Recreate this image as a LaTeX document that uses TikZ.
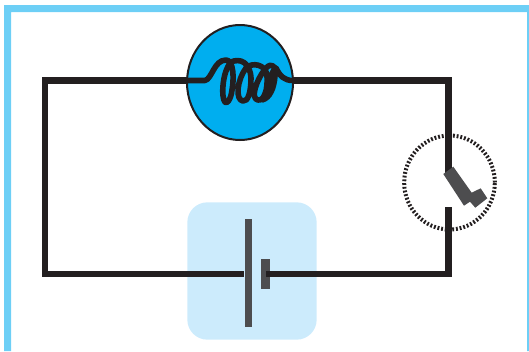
\documentclass[tikz,border=0pt]{standalone}
\usepackage{xcolor}
\usetikzlibrary{shapes.geometric}
\definecolor{framecol}{HTML}{6DCFF6}
\definecolor{lampcol}{HTML}{00AEEF}
\definecolor{padcol}{HTML}{CCEBFC}
\definecolor{wirecol}{HTML}{231F20}
\definecolor{platecol}{HTML}{4D4D4F}
\tikzset{
    box/.style = {rectangle, inner sep=0pt, outer sep=0pt},
    lamp_node/.style = {ellipse, inner sep=0pt, outer sep=0pt, draw=wirecol, line width=1.5pt, fill=lampcol, minimum width=79.5pt, minimum height=86.25pt},
    dial_node/.style = {ellipse, inner sep=0pt, outer sep=0pt, draw=wirecol, line width=3pt, dash pattern=on 1.4pt off 1.4pt, minimum width=68pt, minimum height=70.5pt},
    pad_node/.style = {box, fill=padcol, rounded corners=15pt, minimum width=97pt, minimum height=103pt},
    long_plate/.style = {box, fill=platecol, minimum width=5.2pt, minimum height=81pt},
    short_plate/.style = {box, fill=platecol, minimum width=6.7pt, minimum height=22.5pt},
    wire/.style = {draw=wirecol, line width=5pt},
    coil/.style = {draw=wirecol, line width=4.2pt, line cap=round, line join=round}
}
\begin{document}
\begin{tikzpicture}[x=0.75pt, y=-0.75pt]
    \useasboundingbox (0,0) rectangle (529,351);

    % frame
    \fill[framecol] (4,351) -- (4,5) -- (529,5) -- (529,351) -- (527,351) -- (527,12) -- (11,12) -- (11,351) -- cycle;

    % parts
    \node (pad) [pad_node] at (252,271) {};
    \node (lamp) [lamp_node] at (240,82.5) {};
    \node (dial) [dial_node] at (449.5,182.5) {};

    % corners and wire ends
    \coordinate (lamp_in) at (187,80.5);
    \coordinate (lamp_out) at (293,80.5);
    \coordinate (top_left) at (45,80.5);
    \coordinate (top_right) at (448.3,80.5);
    \coordinate (low_left) at (45,274);
    \coordinate (low_right) at (448.3,274);
    \coordinate (bat_minus) at (244,274);
    \coordinate (bat_plus) at (266,274);
    \coordinate (sw_top) at (448.3,174);
    \coordinate (sw_low) at (448.3,206.5);

    \draw[wire] (lamp_in) -- (top_left) -- (low_left) -- (bat_minus);
    \draw[wire] (lamp_out) -- (top_right) -- (sw_top);
    \node (plate_long) [long_plate] at (248.8,273.3) {};
    \node (plate_short) [short_plate] at (265.8,274.3) {};
    \draw[wire] (bat_plus) -- (low_right) -- (sw_low);

    % lever of the switch
    \fill[platecol] (443.3,174) -- (453.3,166.7) -- (471.7,192.7) -- (480.7,188.3) -- (487.3,198.3)
        -- (475.3,207.7) -- (470,201.7) -- (464,205.7) -- cycle;

    % filament
    \draw[coil] (lamp_in) -- (205,80.5) .. controls (212,79) and (214,60) .. (226,60)
        .. controls (234,60) and (234,80) .. (232,90)
        .. controls (231,100) and (226,105) .. (225,102)
        .. controls (221,98) and (222,72) .. (231,62)
        .. controls (240,58) and (250,62) .. (251,78)
        .. controls (251,92) and (248,102) .. (243,101)
        .. controls (235,100) and (237,80) .. (246,68)
        .. controls (252,62) and (266,64) .. (267,76)
        .. controls (268,90) and (264,101) .. (258,100)
        .. controls (250,99) and (256,80) .. (266,68)
        .. controls (272,62) and (276,66) .. (275,76)
        .. controls (274,88) and (270,98) .. (262,100)
        .. controls (268,90) and (270,72) .. (276,68)
        .. controls (280,76) and (284,80.5) .. (293,80.5);
\end{tikzpicture}
\end{document}
